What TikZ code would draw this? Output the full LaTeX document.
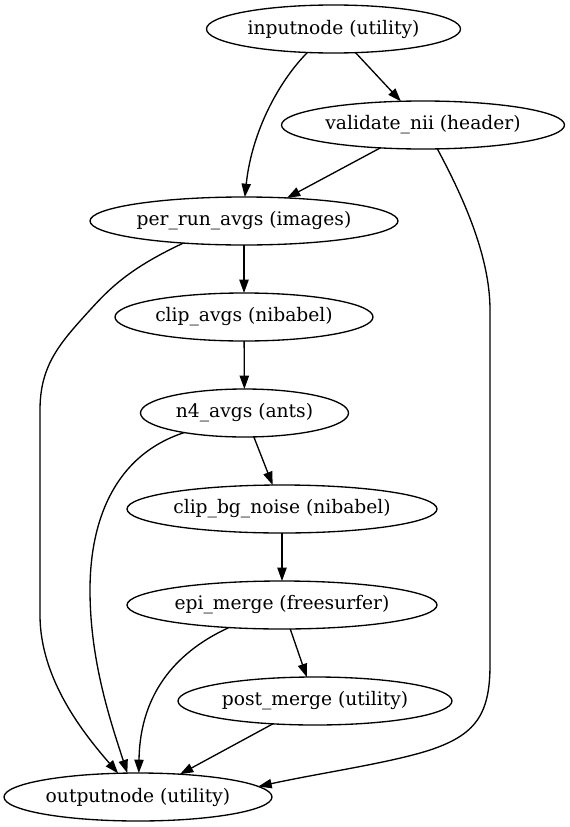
\documentclass[tikz,border=0pt]{standalone}
\usepackage{fontspec}
\setmainfont{DejaVu Serif}
\usetikzlibrary{arrows.meta,shapes.geometric}
\begin{document}
\begin{tikzpicture}[x=1pt,y=1pt,
  gnode/.style={ellipse,draw,line width=1.33pt,inner sep=0pt,outer sep=0pt,minimum height=48pt,
    font=\fontsize{18.67}{22}\selectfont},
  edge/.style={line width=1.33pt,-{Triangle[length=13.3pt,width=9.3pt]}}]
\useasboundingbox (0,0) rectangle (570,-827);
\node[gnode,minimum width=254pt] (inp)  at (333.5,-29) {inputnode (utility)};
\node[gnode,minimum width=283pt] (val)  at (423,-125) {validate\_nii (header)};
\node[gnode,minimum width=308pt] (per)  at (244,-221) {per\_run\_avgs (images)};
\node[gnode,minimum width=258pt] (clip) at (244,-317) {clip\_avgs (nibabel)};
\node[gnode,minimum width=208pt] (n4)   at (244.5,-413) {n4\_avgs (ants)};
\node[gnode,minimum width=310pt] (bg)   at (282,-509) {clip\_bg\_noise (nibabel)};
\node[gnode,minimum width=310pt] (epi)  at (282,-605) {epi\_merge (freesurfer)};
\node[gnode,minimum width=274pt] (post) at (315,-701) {post\_merge (utility)};
\node[gnode,minimum width=268pt] (out)  at (138,-797) {outputnode (utility)};
% straight edges
\draw[edge] (inp) -- (val);
\draw[edge] (val) -- (per);
\draw[edge] (per) -- (clip);
\draw[edge] (clip) -- (n4);
\draw[edge] (n4) -- (bg);
\draw[edge] (bg) -- (epi);
\draw[edge] (epi) -- (post);
\draw[edge] (post) -- (out);
% curved edges
\draw[edge] (inp.-138.5) .. controls (280,-80) and (252,-130) .. (per.88);
\draw[edge] (val.-59.1) .. controls (462,-195) and (490,-255) .. (490,-310) -- (490,-665)
  .. controls (490,-715) and (475,-735) .. (430,-750)
  .. controls (390,-763) and (320,-773) .. (out.5.7);
\draw[edge] (per.-160.1) .. controls (130,-268) and (110,-288) .. (90,-310)
  .. controls (60,-343) and (40,-365) .. (40,-410) -- (40,-615)
  .. controls (40,-680) and (85,-735) .. (out.130.1);
\draw[edge] (n4.-162.9) .. controls (115,-455) and (90,-520) .. (90,-590)
  .. controls (90,-660) and (110,-720) .. (out.114.7);
\draw[edge] (epi.-157.4) .. controls (180,-650) and (140,-690) .. (out.88);
\end{tikzpicture}
\end{document}
